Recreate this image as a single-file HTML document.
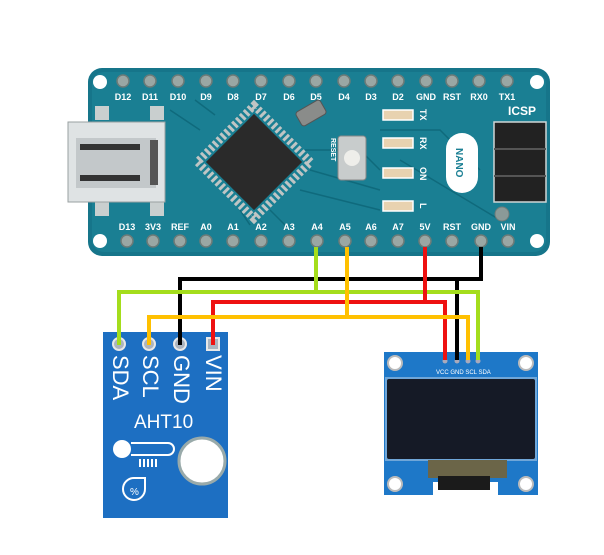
<!DOCTYPE html>
<html><head><meta charset="utf-8"><style>
html,body{margin:0;padding:0;background:#fff;width:604px;height:555px;overflow:hidden}
svg{display:block}
</style></head><body>
<svg width="604" height="555" viewBox="0 0 604 555" xmlns="http://www.w3.org/2000/svg" font-family="Liberation Sans, sans-serif">
<!-- Arduino Nano -->
<rect x="88" y="68" width="462" height="188" rx="14" fill="#16758a"/>
<rect x="92" y="72" width="454" height="180" rx="12" fill="#1a7f93"/>
<circle cx="100" cy="82" r="7" fill="#fff"/><circle cx="537" cy="82" r="7" fill="#fff"/>
<circle cx="100" cy="241" r="7" fill="#fff"/><circle cx="537" cy="241" r="7" fill="#fff"/>
<g stroke="#0f6a7c" stroke-width="1.5" fill="none">
<path d="M200 130 L170 110 M215 115 L195 100 M305 150 L360 150 L380 170 M310 170 L380 190 M300 190 L380 210 M380 130 L440 130 L480 170 M240 210 L250 225 M270 210 L285 225 M400 160 L500 220"/>
</g>
<g fill="#9aa7a4" stroke="#6d7b78" stroke-width="1.5">
<circle cx="123" cy="81" r="6"/><circle cx="150" cy="81" r="6"/><circle cx="178" cy="81" r="6"/><circle cx="206" cy="81" r="6"/><circle cx="233" cy="81" r="6"/><circle cx="261" cy="81" r="6"/><circle cx="289" cy="81" r="6"/><circle cx="316" cy="81" r="6"/><circle cx="344" cy="81" r="6"/><circle cx="371" cy="81" r="6"/><circle cx="398" cy="81" r="6"/><circle cx="426" cy="81" r="6"/><circle cx="452" cy="81" r="6"/><circle cx="479" cy="81" r="6"/><circle cx="507" cy="81" r="6"/>
<circle cx="127" cy="241" r="6"/><circle cx="153" cy="241" r="6"/><circle cx="180" cy="241" r="6"/><circle cx="206" cy="241" r="6"/><circle cx="233" cy="241" r="6"/><circle cx="261" cy="241" r="6"/><circle cx="289" cy="241" r="6"/><circle cx="317" cy="241" r="6"/><circle cx="345" cy="241" r="6"/><circle cx="371" cy="241" r="6"/><circle cx="398" cy="241" r="6"/><circle cx="425" cy="241" r="6"/><circle cx="452" cy="241" r="6"/><circle cx="481" cy="241" r="6"/><circle cx="508" cy="241" r="6"/>
</g>
<g fill="#fff" font-size="9" font-weight="bold" text-anchor="middle">
<text x="123" y="100">D12</text><text x="150" y="100">D11</text><text x="178" y="100">D10</text><text x="206" y="100">D9</text><text x="233" y="100">D8</text><text x="261" y="100">D7</text><text x="289" y="100">D6</text><text x="316" y="100">D5</text><text x="344" y="100">D4</text><text x="371" y="100">D3</text><text x="398" y="100">D2</text><text x="426" y="100">GND</text><text x="452" y="100">RST</text><text x="479" y="100">RX0</text><text x="507" y="100">TX1</text>
<text x="127" y="230">D13</text><text x="153" y="230">3V3</text><text x="180" y="230">REF</text><text x="206" y="230">A0</text><text x="233" y="230">A1</text><text x="261" y="230">A2</text><text x="289" y="230">A3</text><text x="317" y="230">A4</text><text x="345" y="230">A5</text><text x="371" y="230">A6</text><text x="398" y="230">A7</text><text x="425" y="230">5V</text><text x="452" y="230">RST</text><text x="481" y="230">GND</text><text x="508" y="230">VIN</text>
<text x="522" y="115" font-size="12">ICSP</text>
</g>
<rect x="95" y="106" width="14" height="14" fill="#c9cfcf"/><rect x="150" y="106" width="14" height="14" fill="#c9cfcf"/>
<rect x="95" y="202" width="14" height="14" fill="#c9cfcf"/><rect x="150" y="202" width="14" height="14" fill="#c9cfcf"/>
<rect x="68" y="122" width="97" height="80" fill="#dfe3e4" stroke="#9aa0a2"/>
<rect x="76" y="138" width="80" height="50" fill="#c3c8ca"/>
<rect x="80" y="144" width="60" height="6" fill="#333"/><rect x="80" y="175" width="60" height="6" fill="#333"/>
<rect x="150" y="140" width="8" height="45" fill="#555"/>
<g transform="rotate(45 254 162)">
<rect x="214" y="122" width="80" height="80" fill="none" stroke="#bfc5c4" stroke-width="8" stroke-dasharray="3 2.5"/>
<rect x="220" y="128" width="68" height="68" fill="#2a2a2a"/>
</g>
<rect x="297" y="105" width="28" height="16" rx="3" transform="rotate(-30 311 113)" fill="#8a8c8a" stroke="#555"/>
<rect x="338" y="136" width="28" height="44" rx="3" fill="#c8cccc" stroke="#888"/>
<circle cx="352" cy="158" r="8" fill="#eeeeea"/>
<text x="331" y="138" fill="#fff" font-size="7" font-weight="bold" transform="rotate(90 331 138)">RESET</text>
<g fill="#e8d2b0" stroke="#fff" stroke-width="1.5">
<rect x="383" y="110" width="30" height="10"/><rect x="383" y="138" width="30" height="10"/><rect x="383" y="168" width="30" height="10"/><rect x="383" y="201" width="30" height="10"/>
</g>
<g fill="#fff" font-size="9" font-weight="bold">
<text x="420" y="109" transform="rotate(90 420 109)">TX</text><text x="420" y="137" transform="rotate(90 420 137)">RX</text><text x="420" y="167" transform="rotate(90 420 167)">ON</text><text x="420" y="203" transform="rotate(90 420 203)">L</text>
</g>
<rect x="446" y="133" width="32" height="60" rx="16" fill="#fff"/>
<text x="456" y="148" fill="#1a7f93" font-size="10" font-weight="bold" transform="rotate(90 456 148)">NANO</text>
<rect x="494" y="122" width="52" height="80" fill="#222" stroke="#cfd6d6" stroke-width="1.5"/>
<g fill="#555"><rect x="494" y="148" width="52" height="2"/><rect x="494" y="175" width="52" height="2"/></g>
<circle cx="502" cy="214" r="7" fill="#8a9a98" stroke="#6d7b78"/>
<!-- AHT10 board -->
<rect x="103" y="332" width="125" height="186" fill="#1d6fc2"/>
<g fill="#aab4c0" stroke="#e8e8e8" stroke-width="2">
<circle cx="119" cy="344" r="6"/><circle cx="149" cy="344" r="6"/><circle cx="180" cy="344" r="6"/><rect x="207" y="338" width="12" height="12"/>
</g>
<g fill="#fff" font-size="22">
<text x="113" y="355" transform="rotate(90 113 355)">SDA</text>
<text x="143" y="355" transform="rotate(90 143 355)">SCL</text>
<text x="174" y="355" transform="rotate(90 174 355)">GND</text>
<text x="206" y="355" transform="rotate(90 206 355)">VIN</text>
<text x="134" y="428" font-size="19">AHT10</text>
</g>
<g fill="none" stroke="#fff" stroke-width="2">
<path d="M131 443 H168 a6 6 0 0 1 0 12 H131"/>
<path d="M134 478 a11 11 0 1 0 11 11 V478 Z"/>
</g>
<circle cx="122" cy="449" r="9" fill="#fff"/>
<g fill="#fff"><rect x="139" y="459" width="2" height="8"/><rect x="143" y="459" width="2" height="8"/><rect x="147" y="459" width="2" height="8"/><rect x="151" y="459" width="2" height="8"/><rect x="155" y="459" width="2" height="8"/></g>
<text x="130" y="495" fill="#fff" font-size="10">%</text>
<circle cx="202" cy="461" r="23" fill="#fff" stroke="#9aa" stroke-width="3"/>
<!-- OLED -->
<path d="M384 352 H538 V495 H498 V482 H433 V495 H384 Z" fill="#1e78c8"/>
<circle cx="395" cy="363" r="7" fill="#fff" stroke="#bbb" stroke-width="2"/><circle cx="526" cy="363" r="7" fill="#fff" stroke="#bbb" stroke-width="2"/>
<circle cx="395" cy="484" r="7" fill="#fff" stroke="#bbb" stroke-width="2"/><circle cx="526" cy="484" r="7" fill="#fff" stroke="#bbb" stroke-width="2"/>
<g fill="#aab"><circle cx="445" cy="361" r="2.5"/><circle cx="457" cy="361" r="2.5"/><circle cx="468" cy="361" r="2.5"/><circle cx="478" cy="361" r="2.5"/></g>
<text x="436" y="374" fill="#fff" font-size="6">VCC GND SCL SDA</text>
<rect x="385" y="377" width="152" height="84" fill="#6fa6d8"/>
<rect x="387" y="379" width="148" height="80" rx="2" fill="#151a26"/>
<rect x="428" y="460" width="79" height="18" fill="#6b6548"/>
<rect x="438" y="476" width="52" height="14" fill="#1b1b1b"/>
<!-- wires -->
<g fill="none" stroke-width="4" stroke-linejoin="miter">
<path d="M481 247 V279 H180 V345" stroke="#000"/>
<path d="M457 279 V360" stroke="#000"/>
<path d="M316 247 V292 M119 345 V292 H478 V360" stroke="#a4dd1c"/>
<path d="M425 247 V302 M213 345 V302 H445 V360" stroke="#ee1111"/>
<path d="M347 247 V317 M149 345 V317 H468 V360" stroke="#ffc000"/>
</g>
</svg>
</body></html>
